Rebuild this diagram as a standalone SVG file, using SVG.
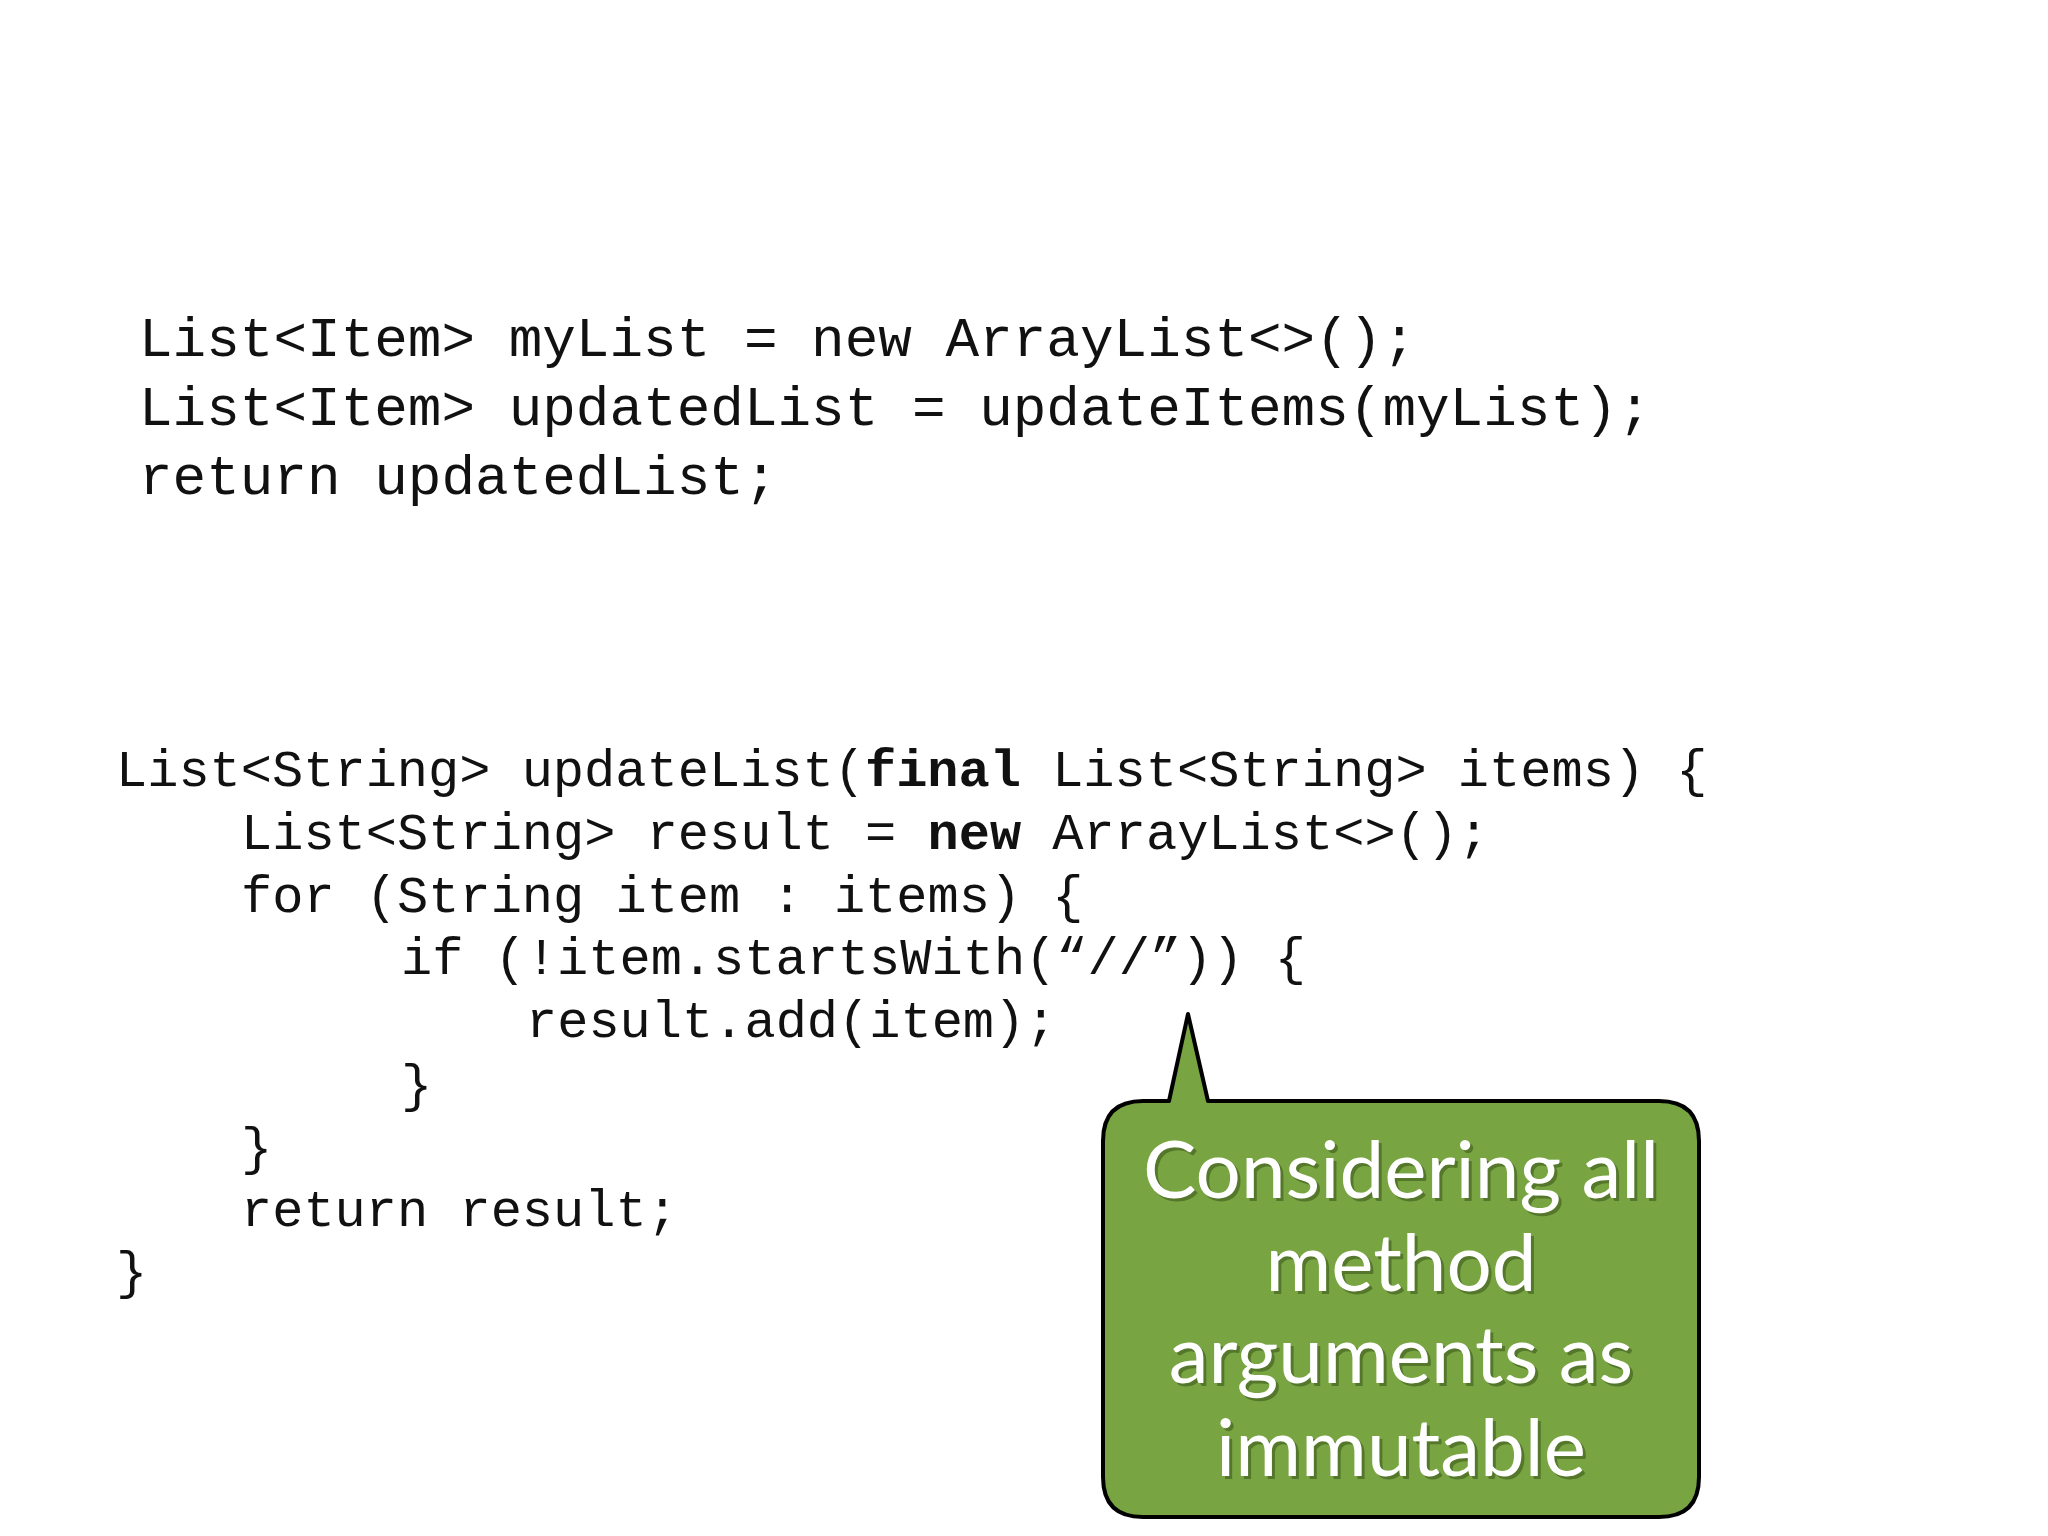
<svg xmlns="http://www.w3.org/2000/svg" width="2048" height="1536" viewBox="0 0 2048 1536">
<style>
.c1{font-family:"Liberation Mono",monospace;font-size:56px;fill:#111}
.c2{font-family:"Liberation Mono",monospace;font-size:52px;fill:#111}
.b{font-weight:bold}
.t{font-family:Lato,"Open Sans",sans-serif;font-size:80px;fill:#fff;text-anchor:middle}
.s{font-family:Lato,"Open Sans",sans-serif;font-size:80px;fill:#3d5a1c;text-anchor:middle;opacity:0.6}
</style>
<rect width="2048" height="1536" fill="#fff"/>
<g id="code1">
<text class="c1" x="139" y="356">List&lt;Item&gt; myList = new ArrayList&lt;&gt;();</text>
<text class="c1" x="139" y="425">List&lt;Item&gt; updatedList = updateItems(myList);</text>
<text class="c1" x="139" y="494">return updatedList;</text>
</g>
<g id="code2">
<text class="c2" x="116" y="786">List&lt;String&gt; updateList(<tspan class="b">final</tspan> List&lt;String&gt; items) {</text>
<text class="c2" x="241" y="849">List&lt;String&gt; result = <tspan class="b">new</tspan> ArrayList&lt;&gt;();</text>
<text class="c2" x="241" y="912">for (String item : items) {</text>
<text class="c2" x="401" y="974">if (!item.startsWith(“//”)) {</text>
<text class="c2" x="526" y="1037">result.add(item);</text>
<text class="c2" x="401" y="1101">}</text>
<text class="c2" x="241" y="1164">}</text>
<text class="c2" x="241" y="1226">return result;</text>
<text class="c2" x="116" y="1288">}</text>
</g>
<g id="callout">
<path d="M1143,1101 L1169,1101 L1188,1014 L1208,1101 L1659,1101 Q1699,1101 1699,1141 L1699,1477 Q1699,1517 1659,1517 L1143,1517 Q1103,1517 1103,1477 L1103,1141 Q1103,1101 1143,1101 Z" fill="#78a442" stroke="#000" stroke-width="4" stroke-linejoin="round"/>
<text class="s" x="1404" y="1201">Considering all</text>
<text class="s" x="1404" y="1294">method</text>
<text class="s" x="1404" y="1386">arguments as</text>
<text class="s" x="1404" y="1479">immutable</text>
<text class="t" x="1401" y="1198">Considering all</text>
<text class="t" x="1401" y="1291">method</text>
<text class="t" x="1401" y="1383">arguments as</text>
<text class="t" x="1401" y="1476">immutable</text>
</g>
</svg>
